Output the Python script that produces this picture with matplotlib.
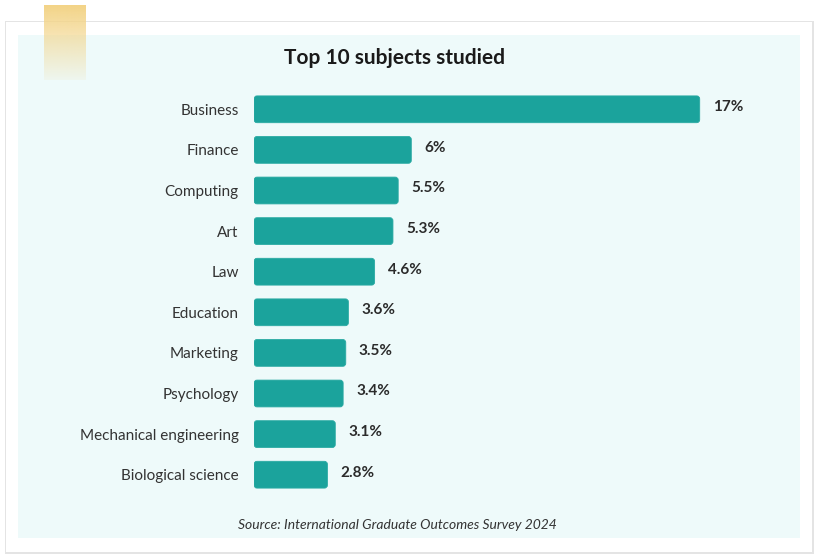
import matplotlib
matplotlib.use("Agg")
import matplotlib.pyplot as plt
import numpy as np
from matplotlib.patches import FancyBboxPatch, Rectangle

plt.rcParams['font.family'] = ['Lato', 'DejaVu Sans']

subjects = ['Business', 'Finance', 'Computing', 'Art', 'Law', 'Education',
            'Marketing', 'Psychology', 'Mechanical engineering', 'Biological science']
shares = [17, 6, 5.5, 5.3, 4.6, 3.6, 3.5, 3.4, 3.1, 2.8]
share_labels = ['17%', '6%', '5.5%', '5.3%', '4.6%', '3.6%', '3.5%', '3.4%', '3.1%', '2.8%']

W, H = 818, 560
fig = plt.figure(figsize=(W / 100, H / 100), dpi=100)
fig.patch.set_facecolor('white')

# background axes in pixel coords (y down)
bax = fig.add_axes([0, 0, 1, 1], zorder=0)
bax.set_xlim(0, W)
bax.set_ylim(H, 0)
bax.axis('off')
bax.add_patch(Rectangle((5, 21), 809, 533, facecolor='#e4e4e4', edgecolor='none'))
bax.add_patch(Rectangle((6, 22), 806, 530, facecolor='white', edgecolor='none'))
bax.add_patch(Rectangle((18, 35), 782, 503, facecolor='#eefafa', edgecolor='none'))

# gold tab with fade
gold = np.array([243, 212, 135]) / 255
img = np.zeros((100, 1, 4))
img[:, 0, :3] = gold
img[:, 0, 3] = 1 - 0.9 * np.linspace(0, 1, 100)
bax.imshow(img, aspect='auto', extent=[44, 86, 80, 5], zorder=3)
bax.set_xlim(0, W)
bax.set_ylim(H, 0)

# bars
ax_l, ax_r = 254, 760
ax_t, ax_b = 89, 495
ax = fig.add_axes([ax_l / W, 1 - ax_b / H, (ax_r - ax_l) / W, (ax_b - ax_t) / H], zorder=2)
ax.set_facecolor('none')
xmax = 19.3
ax.set_xlim(0, xmax)
ax.set_ylim(len(subjects) - 0.5, -0.5)

ypos = np.arange(len(subjects))
bh = 0.66
bars = ax.barh(ypos, shares, height=bh, color='none')
xu = xmax / (ax_r - ax_l)
yu = len(subjects) / (ax_b - ax_t)
for b in bars:
    fb = FancyBboxPatch((b.get_x(), b.get_y()), b.get_width(), b.get_height(),
                        boxstyle='round,pad=0,rounding_size=%f' % (3 * xu),
                        mutation_aspect=yu / xu,
                        facecolor='#1ba39c', edgecolor='#2aaaa3', linewidth=0.6)
    ax.add_patch(fb)

for y, v, lab in zip(ypos, shares, share_labels):
    ax.text(v + 13 * xu, y - 0.05, lab, va='center', ha='left', fontsize=11,
            fontweight='bold', color='#2b2b2b')

ax.set_yticks(ypos)
ax.set_yticklabels(subjects, fontsize=11, color='#333333')
ax.tick_params(axis='y', length=0, pad=11)
ax.set_xticks([])
for s in ax.spines.values():
    s.set_visible(False)
for t in ax.get_yticklabels():
    t.set_verticalalignment('center_baseline')

fig.text(395 / W, 1 - 58 / H, 'Top 10 subjects studied', ha='center', va='center',
         fontsize=15, fontweight='bold', color='#1a1a1a')
fig.text(397 / W, 1 - 525 / H, 'Source: International Graduate Outcomes Survey 2024',
         ha='center', va='center', fontsize=10, style='italic', color='#333333')

fig.savefig('out.png', dpi=100)
